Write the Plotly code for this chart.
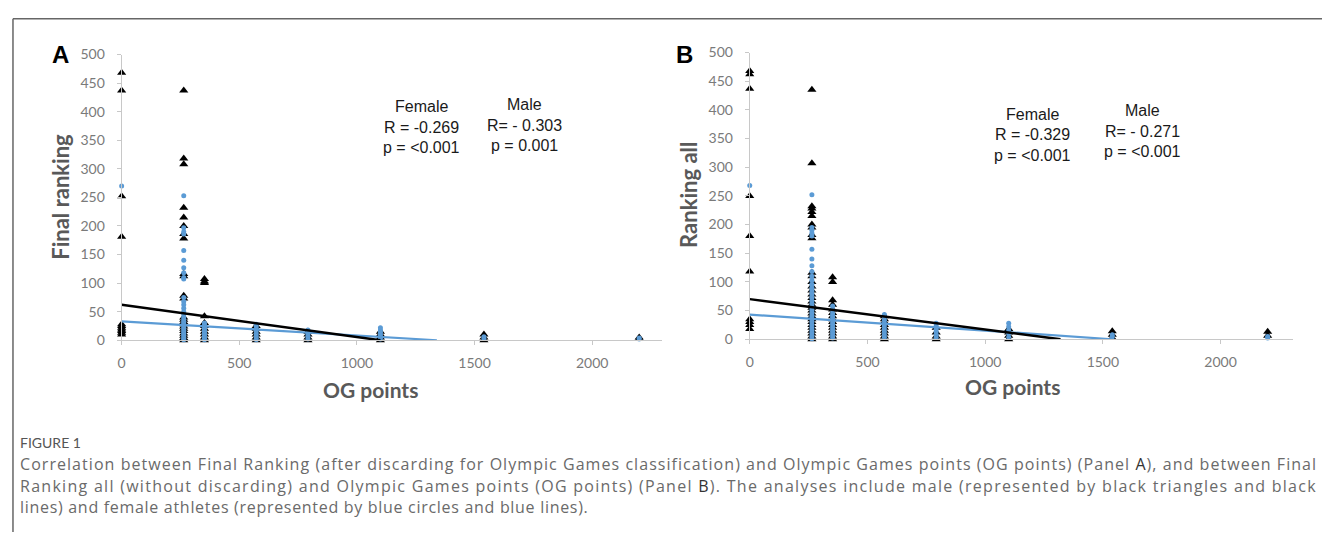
import plotly.graph_objects as go

W, H = 1322, 540

# ---------------- data ----------------
og_levels = [0, 264, 352, 572, 792, 1100, 1540, 2200]

# Panel A: Final ranking
a_male = {
    0: [468, 437, 252, 181, 28, 25, 22, 19, 16, 13, 10],
    264: [437, 318, 308, 232, 215, 200, 186, 178, 116, 112, 78, 73, 40, 36, 32, 28, 24, 20, 16, 12, 8, 4, 0],
    352: [107, 103, 100, 42, 30, 25, 20, 15, 10, 5, 0],
    572: [25, 20, 15, 10, 5, 0],
    792: [15, 10, 5, 0],
    1100: [15, 10, 5, 0],
    1540: [10, 5, 0],
    2200: [5, 2],
}
a_female = {
    0: [270],
    264: [253, 197, 190, 186, 157, 140, 127, 118, 110, 107, 75, 68, 62, 56, 50, 45, 40, 36, 33, 30, 27, 24, 21, 18, 15, 12, 9, 6, 3, 1],
    352: [30, 27, 24, 21, 18, 15, 12, 9, 6, 3, 1],
    572: [28, 24, 20, 16, 12, 8, 4, 1],
    792: [18, 14, 10, 6, 2],
    1100: [22, 18, 14, 10, 6, 2],
    1540: [6, 3],
    2200: [4, 2],
}
# Panel B: Ranking all
b_male = {
    0: [468, 462, 437, 250, 180, 118, 35, 30, 25, 18],
    264: [435, 307, 232, 228, 222, 215, 200, 195, 182, 176, 116, 110, 100, 92, 85, 78, 72, 66, 60, 55, 50, 45, 40, 35, 30, 25, 20, 15, 10, 5, 0],
    352: [108, 100, 68, 60, 52, 46, 40, 35, 30, 25, 20, 15, 10, 5, 0],
    572: [40, 35, 30, 25, 20, 15, 10, 5, 0],
    792: [20, 12, 5, 0],
    1100: [18, 12, 6, 0],
    1540: [14, 8, 2],
    2200: [13, 6],
}
b_female = {
    0: [268],
    264: [252, 195, 190, 185, 180, 157, 140, 128, 118, 110, 103, 96, 90, 84, 78, 72, 66, 60, 55, 50, 45, 40, 35, 30, 25, 20, 15, 10, 5, 1],
    352: [58, 52, 46, 42, 38, 34, 30, 26, 22, 18, 14, 10, 6, 2],
    572: [43, 38, 33, 28, 23, 18, 13, 8, 3],
    792: [28, 23, 18, 13, 8, 3],
    1100: [28, 22, 16, 10, 4],
    1540: [8, 4],
    2200: [5, 2],
}

# Linear trend lines (end points)
a_male_trend_x, a_male_trend_y = [0, 1100], [62, 0]
a_female_trend_x, a_female_trend_y = [0, 1340], [33, 0]
b_male_trend_x, b_male_trend_y = [0, 1320], [70, 0]
b_female_trend_x, b_female_trend_y = [0, 1540], [43, 0]

y_ticks = [0, 50, 100, 150, 200, 250, 300, 350, 400, 450, 500]
x_ticks = [0, 500, 1000, 1500, 2000]

a_stats = {"Female": ["R = -0.269", "p = <0.001"], "Male": ["R= - 0.303", "p = 0.001"]}
b_stats = {"Female": ["R = -0.329", "p = <0.001"], "Male": ["R= - 0.271", "p = <0.001"]}

caption_title = "FIGURE 1"
caption_lines = [
    "Correlation between Final Ranking (after discarding for Olympic Games classification) and Olympic Games points (OG points) (Panel <span style='fill:#333'>A</span>), and between Final",
    "Ranking all (without discarding) and Olympic Games points (OG points) (Panel <span style='fill:#333'>B</span>). The analyses include male (represented by black triangles and black",
    "lines) and female athletes (represented by blue circles and blue lines).",
]

BLUE = "#5b9bd5"


def flatten(d):
    xs, ys = [], []
    for k in og_levels:
        for v in d.get(k, []):
            xs.append(k)
            ys.append(v)
    return xs, ys


def px(x):
    return x / W


def py(y):
    return 1 - y / H


fig = go.Figure()

panels = [
    ("x", "y", a_male, a_female, (a_male_trend_x, a_male_trend_y), (a_female_trend_x, a_female_trend_y)),
    ("x2", "y2", b_male, b_female, (b_male_trend_x, b_male_trend_y), (b_female_trend_x, b_female_trend_y)),
]
for xa, ya, male, female, mt, ft in panels:
    mx, my = flatten(male)
    fx, fy = flatten(female)
    fig.add_trace(go.Scatter(x=mx, y=my, mode="markers", xaxis=xa, yaxis=ya,
                             marker=dict(symbol="triangle-up", size=8, color="black"),
                             showlegend=False, cliponaxis=False))
    fig.add_trace(go.Scatter(x=fx, y=fy, mode="markers", xaxis=xa, yaxis=ya,
                             marker=dict(symbol="circle", size=5, color=BLUE),
                             showlegend=False, cliponaxis=False))
    fig.add_trace(go.Scatter(x=ft[0], y=ft[1], mode="lines", xaxis=xa, yaxis=ya,
                             line=dict(color=BLUE, width=2.2), showlegend=False))
    fig.add_trace(go.Scatter(x=mt[0], y=mt[1], mode="lines", xaxis=xa, yaxis=ya,
                             line=dict(color="black", width=2.5), showlegend=False))

axis_common = dict(showgrid=False, zeroline=False, showline=True, linecolor="#c8c8c8", linewidth=1,
                   ticks="outside", ticklen=4, tickcolor="#c8c8c8",
                   tickfont=dict(family="Lato", size=14, color="#7a7a7a"))

fig.update_layout(
    width=W, height=H,
    margin=dict(l=0, r=0, t=0, b=0),
    paper_bgcolor="white", plot_bgcolor="white",
    xaxis=dict(domain=[px(118), px(660)], range=[0, 2297], tickvals=x_ticks, anchor="y",
               ticklabelstandoff=6, **axis_common),
    yaxis=dict(domain=[py(342), py(47)], range=[0, 500], tickvals=y_ticks, anchor="x",
               ticklabelstandoff=9, **axis_common),
    xaxis2=dict(domain=[px(748), px(1293)], range=[0, 2308], tickvals=x_ticks, anchor="y2",
                ticklabelstandoff=6, **axis_common),
    yaxis2=dict(domain=[py(341), py(45)], range=[0, 500], tickvals=y_ticks, anchor="x2",
                ticklabelstandoff=9, **axis_common),
)

ann = []


def text(x, y, s, size, color, family="Liberation Sans", xanchor="center", angle=0, weight=None):
    f = dict(family=family, size=size, color=color)
    if weight:
        f["weight"] = weight
    ann.append(dict(x=px(x), y=py(y), xref="paper", yref="paper", text=s, showarrow=False,
                    xanchor=xanchor, yanchor="middle", font=f, textangle=angle))


# panel letters
text(57, 47, "<b>A</b>", 24, "black", "Liberation Sans")
text(683, 47, "<b>B</b>", 24, "black", "Liberation Sans")

# axis titles
text(57, 194, "Final ranking", 22, "#595959", "Lato", angle=-90, weight=700)
text(687, 192, "Ranking all", 22, "#595959", "Lato", angle=-90, weight=700)
text(368, 393, "OG points", 21, "#595959", "Lato", weight=700)
text(1012, 390, "OG points", 21, "#595959", "Lato", weight=700)

# statistics text
stat_pos = [(a_stats, (419, 101), (522, 99)), (b_stats, (1032, 109), (1142, 105))]
for st, fpos, mpos in stat_pos:
    for (label, pos) in (("Female", fpos), ("Male", mpos)):
        lines = [label] + st[label]
        for i, ln in enumerate(lines):
            text(pos[0], pos[1] + i * 21, ln, 16, "#1a1a1a")

# caption
text(14, 448, caption_title, 14, "#555555", "Lato", xanchor="left")
spacings = ["1.05px", "1.28px", "0.7px"]
for i, ln in enumerate(caption_lines):
    text(14, 470 + i * 22, "<span style='letter-spacing:%s'>%s</span>" % (spacings[i], ln),
         16, "#6a6a6a", "Open Sans", xanchor="left")

fig.update_layout(annotations=ann)

# frame lines
fig.add_shape(type="line", xref="paper", yref="paper", x0=px(9), x1=1, y0=py(10), y1=py(10),
              line=dict(color="#666666", width=1.5))
fig.add_shape(type="line", xref="paper", yref="paper", x0=px(9), x1=px(9), y0=py(10), y1=0,
              line=dict(color="#666666", width=1.5))

fig.write_html("out.html")
